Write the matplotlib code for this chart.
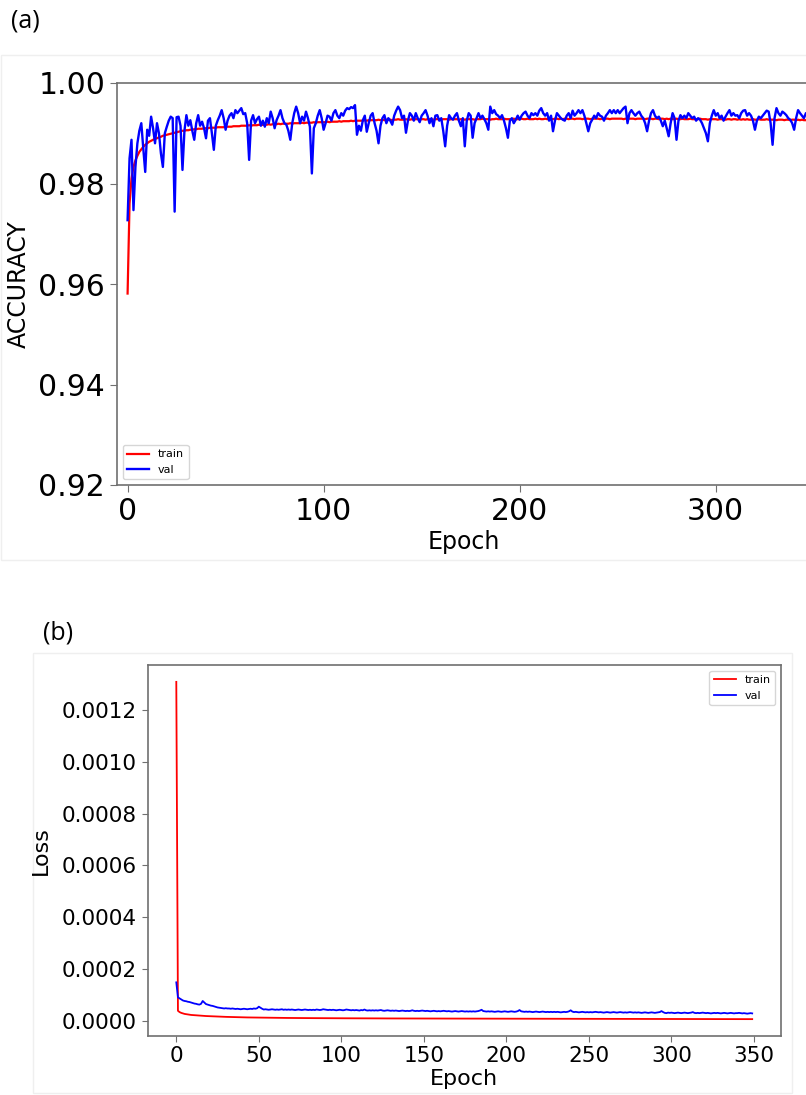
import matplotlib
matplotlib.use('Agg')
import matplotlib.pyplot as plt
from matplotlib.patches import Rectangle
import numpy as np

# 학습 곡선 데이터 (epoch 0 ~ 349)
train_acc = [
    0.9581, 0.9760, 0.9810, 0.9833, 0.9846, 0.9855, 0.9863, 0.9868, 0.9873, 0.9877,
    0.9880, 0.9883, 0.9885, 0.9887, 0.9889, 0.9890, 0.9892, 0.9893, 0.9895, 0.9896,
    0.9897, 0.9898, 0.9899, 0.9900, 0.9901, 0.9902, 0.9903, 0.9904, 0.9905, 0.9905,
    0.9906, 0.9906, 0.9907, 0.9907, 0.9908, 0.9908, 0.9909, 0.9909, 0.9909, 0.9910,
    0.9910, 0.9910, 0.9911, 0.9911, 0.9911, 0.9911, 0.9912, 0.9912, 0.9912, 0.9912,
    0.9913, 0.9913, 0.9913, 0.9913, 0.9914, 0.9914, 0.9914, 0.9914, 0.9915, 0.9915,
    0.9915, 0.9915, 0.9916, 0.9915, 0.9916, 0.9916, 0.9916, 0.9917, 0.9916, 0.9917,
    0.9917, 0.9917, 0.9918, 0.9917, 0.9918, 0.9918, 0.9918, 0.9919, 0.9918, 0.9919,
    0.9919, 0.9919, 0.9919, 0.9920, 0.9919, 0.9920, 0.9920, 0.9920, 0.9920, 0.9921,
    0.9920, 0.9921, 0.9921, 0.9921, 0.9921, 0.9922, 0.9921, 0.9922, 0.9922, 0.9922,
    0.9922, 0.9922, 0.9923, 0.9922, 0.9923, 0.9923, 0.9923, 0.9923, 0.9924, 0.9923,
    0.9924, 0.9924, 0.9924, 0.9924, 0.9925, 0.9924, 0.9925, 0.9925, 0.9925, 0.9925,
    0.9925, 0.9926, 0.9925, 0.9926, 0.9926, 0.9926, 0.9926, 0.9926, 0.9927, 0.9926,
    0.9927, 0.9926, 0.9927, 0.9927, 0.9927, 0.9926, 0.9927, 0.9927, 0.9928, 0.9927,
    0.9927, 0.9927, 0.9928, 0.9927, 0.9927, 0.9928, 0.9927, 0.9928, 0.9928, 0.9927,
    0.9928, 0.9928, 0.9927, 0.9928, 0.9928, 0.9928, 0.9927, 0.9928, 0.9928, 0.9928,
    0.9927, 0.9928, 0.9928, 0.9928, 0.9927, 0.9928, 0.9928, 0.9928, 0.9928, 0.9927,
    0.9928, 0.9928, 0.9927, 0.9928, 0.9928, 0.9928, 0.9928, 0.9927, 0.9928, 0.9928,
    0.9928, 0.9929, 0.9928, 0.9928, 0.9928, 0.9927, 0.9928, 0.9928, 0.9929, 0.9928,
    0.9928, 0.9928, 0.9929, 0.9928, 0.9928, 0.9928, 0.9928, 0.9929, 0.9928, 0.9928,
    0.9928, 0.9929, 0.9928, 0.9928, 0.9929, 0.9928, 0.9928, 0.9928, 0.9929, 0.9928,
    0.9929, 0.9928, 0.9928, 0.9929, 0.9928, 0.9929, 0.9928, 0.9928, 0.9929, 0.9929,
    0.9928, 0.9929, 0.9928, 0.9929, 0.9929, 0.9928, 0.9929, 0.9929, 0.9928, 0.9929,
    0.9929, 0.9929, 0.9928, 0.9929, 0.9929, 0.9929, 0.9928, 0.9929, 0.9929, 0.9929,
    0.9929, 0.9928, 0.9929, 0.9929, 0.9929, 0.9929, 0.9928, 0.9929, 0.9929, 0.9929,
    0.9929, 0.9929, 0.9929, 0.9928, 0.9929, 0.9929, 0.9929, 0.9929, 0.9929, 0.9928,
    0.9929, 0.9929, 0.9929, 0.9929, 0.9928, 0.9929, 0.9929, 0.9929, 0.9928, 0.9929,
    0.9929, 0.9928, 0.9929, 0.9929, 0.9928, 0.9929, 0.9928, 0.9929, 0.9928, 0.9928,
    0.9929, 0.9928, 0.9928, 0.9929, 0.9928, 0.9928, 0.9928, 0.9929, 0.9928, 0.9928,
    0.9928, 0.9928, 0.9929, 0.9928, 0.9928, 0.9928, 0.9927, 0.9928, 0.9928, 0.9928,
    0.9928, 0.9927, 0.9928, 0.9928, 0.9928, 0.9927, 0.9928, 0.9928, 0.9927, 0.9928,
    0.9928, 0.9927, 0.9928, 0.9927, 0.9928, 0.9927, 0.9928, 0.9927, 0.9927, 0.9928,
    0.9927, 0.9927, 0.9928, 0.9927, 0.9927, 0.9927, 0.9928, 0.9927, 0.9927, 0.9927,
    0.9927, 0.9926, 0.9927, 0.9927, 0.9927, 0.9926, 0.9927, 0.9927, 0.9926, 0.9927,
    0.9927, 0.9926, 0.9927, 0.9926, 0.9927, 0.9926, 0.9926, 0.9927, 0.9926, 0.9926,
]

val_acc = [
    0.9727, 0.9850, 0.9887, 0.9747, 0.9833, 0.9880, 0.9905, 0.9920, 0.9870, 0.9823,
    0.9907, 0.9895, 0.9933, 0.9910, 0.9880, 0.9920, 0.9900, 0.9860, 0.9833, 0.9900,
    0.9913, 0.9925, 0.9933, 0.9930, 0.9744, 0.9932, 0.9933, 0.9915, 0.9827, 0.9905,
    0.9936, 0.9915, 0.9926, 0.9905, 0.9887, 0.9920, 0.9936, 0.9915, 0.9923, 0.9910,
    0.9890, 0.9925, 0.9930, 0.9900, 0.9867, 0.9915, 0.9926, 0.9935, 0.9946, 0.9930,
    0.9907, 0.9925, 0.9935, 0.9940, 0.9930, 0.9946, 0.9940, 0.9945, 0.9950, 0.9938,
    0.9940, 0.9920, 0.9847, 0.9925, 0.9936, 0.9920, 0.9928, 0.9933, 0.9915, 0.9925,
    0.9913, 0.9930, 0.9920, 0.9943, 0.9930, 0.9910, 0.9926, 0.9935, 0.9946, 0.9930,
    0.9920, 0.9917, 0.9905, 0.9887, 0.9920, 0.9940, 0.9953, 0.9940, 0.9920, 0.9933,
    0.9925, 0.9943, 0.9930, 0.9913, 0.9820, 0.9910, 0.9920, 0.9935, 0.9946, 0.9930,
    0.9907, 0.9920, 0.9935, 0.9933, 0.9925, 0.9940, 0.9946, 0.9935, 0.9930, 0.9940,
    0.9935, 0.9945, 0.9950, 0.9948, 0.9952, 0.9950, 0.9956, 0.9897, 0.9915, 0.9905,
    0.9926, 0.9935, 0.9903, 0.9920, 0.9935, 0.9940, 0.9920, 0.9905, 0.9880, 0.9915,
    0.9930, 0.9936, 0.9920, 0.9930, 0.9925, 0.9917, 0.9935, 0.9945, 0.9953, 0.9946,
    0.9930, 0.9935, 0.9901, 0.9925, 0.9940, 0.9935, 0.9925, 0.9940, 0.9930, 0.9922,
    0.9935, 0.9940, 0.9946, 0.9935, 0.9920, 0.9930, 0.9914, 0.9935, 0.9936, 0.9925,
    0.9930, 0.9905, 0.9874, 0.9915, 0.9936, 0.9930, 0.9927, 0.9935, 0.9940, 0.9925,
    0.9914, 0.9930, 0.9874, 0.9925, 0.9940, 0.9935, 0.9891, 0.9920, 0.9930, 0.9940,
    0.9930, 0.9935, 0.9928, 0.9920, 0.9907, 0.9953, 0.9940, 0.9946, 0.9938, 0.9935,
    0.9930, 0.9936, 0.9925, 0.9910, 0.9891, 0.9925, 0.9930, 0.9920, 0.9927, 0.9935,
    0.9927, 0.9935, 0.9940, 0.9943, 0.9935, 0.9930, 0.9940, 0.9936, 0.9940, 0.9935,
    0.9945, 0.9950, 0.9940, 0.9935, 0.9940, 0.9925, 0.9935, 0.9904, 0.9925, 0.9940,
    0.9935, 0.9930, 0.9927, 0.9925, 0.9935, 0.9940, 0.9930, 0.9945, 0.9935, 0.9940,
    0.9946, 0.9940, 0.9946, 0.9935, 0.9920, 0.9904, 0.9920, 0.9927, 0.9935, 0.9930,
    0.9940, 0.9935, 0.9933, 0.9925, 0.9935, 0.9940, 0.9946, 0.9940, 0.9946, 0.9940,
    0.9946, 0.9940, 0.9945, 0.9950, 0.9953, 0.9920, 0.9940, 0.9946, 0.9940, 0.9935,
    0.9940, 0.9943, 0.9935, 0.9930, 0.9920, 0.9904, 0.9925, 0.9940, 0.9946, 0.9935,
    0.9930, 0.9933, 0.9925, 0.9914, 0.9925, 0.9910, 0.9894, 0.9920, 0.9940, 0.9930,
    0.9887, 0.9925, 0.9936, 0.9930, 0.9935, 0.9930, 0.9940, 0.9935, 0.9930, 0.9933,
    0.9925, 0.9930, 0.9927, 0.9920, 0.9910, 0.9900, 0.9884, 0.9920, 0.9935, 0.9946,
    0.9935, 0.9940, 0.9930, 0.9935, 0.9925, 0.9933, 0.9940, 0.9946, 0.9935, 0.9940,
    0.9935, 0.9936, 0.9930, 0.9940, 0.9945, 0.9946, 0.9935, 0.9940, 0.9935, 0.9925,
    0.9907, 0.9925, 0.9933, 0.9930, 0.9935, 0.9940, 0.9945, 0.9943, 0.9920, 0.9877,
    0.9930, 0.9950, 0.9940, 0.9935, 0.9943, 0.9940, 0.9936, 0.9930, 0.9927, 0.9920,
    0.9907, 0.9930, 0.9946, 0.9940, 0.9935, 0.9930, 0.9940, 0.9935, 0.9930, 0.9935,
]

# loss 값 (단위: 1e-6)
train_loss_e6 = [
    1310, 38, 33, 30, 28, 26, 25, 24, 23, 22,
    21.5, 21, 20.5, 20, 19.5, 19, 18.6, 18.2, 17.8, 17.5,
    17.2, 16.9, 16.6, 16.3, 16.0, 15.7, 15.4, 15.2, 15.0, 14.8,
    14.6, 14.4, 14.2, 14.0, 13.8, 13.6, 13.4, 13.3, 13.1, 13.0,
    12.8, 12.7, 12.6, 12.4, 12.3, 12.2, 12.1, 12.0, 11.9, 11.8,
    11.7, 11.6, 11.5, 11.4, 11.3, 11.2, 11.2, 11.1, 11.0, 10.9,
    10.9, 10.8, 10.7, 10.7, 10.6, 10.5, 10.5, 10.4, 10.4, 10.3,
    10.3, 10.2, 10.2, 10.1, 10.1, 10.0, 10.0, 9.9, 9.9, 9.9,
    9.8, 9.8, 9.7, 9.7, 9.7, 9.6, 9.6, 9.6, 9.5, 9.5,
    9.5, 9.4, 9.4, 9.4, 9.3, 9.3, 9.3, 9.2, 9.2, 9.2,
    9.2, 9.1, 9.1, 9.1, 9.1, 9.0, 9.0, 9.0, 9.0, 8.9,
    8.9, 8.9, 8.9, 8.8, 8.8, 8.8, 8.8, 8.8, 8.7, 8.7,
    8.7, 8.7, 8.7, 8.6, 8.6, 8.6, 8.6, 8.6, 8.5, 8.5,
    8.5, 8.5, 8.5, 8.5, 8.4, 8.4, 8.4, 8.4, 8.4, 8.4,
    8.3, 8.3, 8.3, 8.3, 8.3, 8.3, 8.2, 8.2, 8.2, 8.2,
    8.2, 8.2, 8.2, 8.1, 8.1, 8.1, 8.1, 8.1, 8.1, 8.1,
    8.0, 8.0, 8.0, 8.0, 8.0, 8.0, 8.0, 7.9, 7.9, 7.9,
    7.9, 7.9, 7.9, 7.9, 7.9, 7.8, 7.8, 7.8, 7.8, 7.8,
    7.8, 7.8, 7.8, 7.7, 7.7, 7.7, 7.7, 7.7, 7.7, 7.7,
    7.7, 7.6, 7.6, 7.6, 7.6, 7.6, 7.6, 7.6, 7.6, 7.5,
    7.5, 7.5, 7.5, 7.5, 7.5, 7.5, 7.5, 7.4, 7.4, 7.4,
    7.4, 7.4, 7.4, 7.4, 7.4, 7.3, 7.3, 7.3, 7.3, 7.3,
    7.3, 7.3, 7.3, 7.3, 7.2, 7.2, 7.2, 7.2, 7.2, 7.2,
    7.2, 7.2, 7.1, 7.1, 7.1, 7.1, 7.1, 7.1, 7.1, 7.1,
    7.0, 7.0, 7.0, 7.0, 7.0, 7.0, 7.0, 7.0, 6.9, 6.9,
    6.9, 6.9, 6.9, 6.9, 6.9, 6.9, 6.9, 6.8, 6.8, 6.8,
    6.8, 6.8, 6.8, 6.8, 6.8, 6.7, 6.7, 6.7, 6.7, 6.7,
    6.7, 6.7, 6.7, 6.6, 6.6, 6.6, 6.6, 6.6, 6.6, 6.6,
    6.6, 6.5, 6.5, 6.5, 6.5, 6.5, 6.5, 6.5, 6.5, 6.4,
    6.4, 6.4, 6.4, 6.4, 6.4, 6.4, 6.4, 6.3, 6.3, 6.3,
    6.3, 6.3, 6.3, 6.3, 6.3, 6.3, 6.2, 6.2, 6.2, 6.2,
    6.2, 6.2, 6.2, 6.2, 6.1, 6.1, 6.1, 6.1, 6.1, 6.1,
    6.1, 6.1, 6.1, 6.0, 6.0, 6.0, 6.0, 6.0, 6.0, 6.0,
    6.0, 6.0, 5.9, 5.9, 5.9, 5.9, 5.9, 5.9, 5.9, 5.9,
    5.9, 5.8, 5.8, 5.8, 5.8, 5.8, 5.8, 5.8, 5.8, 5.8,
]

val_loss_e6 = [
    148, 90, 86, 82, 78, 76, 75, 73, 72, 70,
    68, 66, 65, 63, 62, 65, 76, 70, 64, 62,
    60, 58, 57, 55, 53, 51, 50, 49, 48, 47,
    48, 47, 47, 46, 47, 46, 45, 46, 45, 44,
    45, 46, 45, 44, 45, 46, 45, 47, 46, 48,
    54, 50, 46, 43, 44, 43, 42, 43, 44, 43,
    42, 43, 42, 43, 44, 42, 43, 42, 43, 42,
    43, 42, 41, 42, 43, 42, 41, 42, 43, 42,
    41, 42, 41, 42, 41, 43, 42, 41, 42, 44,
    43, 42, 41, 42, 41, 42, 41, 40, 41, 42,
    41, 40, 41, 43, 42, 41, 40, 41, 40, 41,
    40, 39, 41, 40, 43, 40, 39, 40, 39, 40,
    39, 40, 39, 40, 41, 39, 38, 39, 40, 39,
    38, 39, 38, 39, 38, 37, 38, 39, 38, 37,
    38, 37, 38, 40, 38, 37, 38, 37, 38, 39,
    38, 37, 38, 37, 36, 37, 38, 37, 36, 37,
    36, 37, 38, 37, 36, 37, 36, 35, 36, 37,
    36, 35, 36, 37, 36, 35, 36, 35, 36, 35,
    36, 35, 36, 37, 39, 42, 37, 36, 35, 36,
    35, 36, 35, 34, 35, 36, 35, 34, 35, 36,
    35, 34, 35, 36, 35, 34, 35, 37, 41, 36,
    35, 34, 35, 34, 35, 34, 33, 34, 35, 34,
    33, 34, 35, 34, 33, 34, 33, 34, 33, 34,
    33, 34, 33, 32, 33, 34, 33, 34, 36, 40,
    35, 33, 34, 33, 32, 33, 34, 33, 32, 33,
    32, 33, 32, 33, 34, 33, 32, 33, 32, 31,
    32, 33, 32, 31, 32, 33, 32, 31, 32, 33,
    32, 31, 32, 31, 32, 33, 32, 31, 32, 31,
    32, 31, 30, 31, 32, 31, 30, 31, 32, 31,
    30, 31, 32, 33, 37, 33, 30, 29, 31, 30,
    31, 30, 29, 30, 31, 30, 29, 30, 31, 30,
    29, 30, 31, 33, 30, 29, 30, 29, 30, 31,
    30, 29, 30, 29, 28, 29, 30, 29, 30, 29,
    28, 29, 30, 29, 28, 29, 30, 29, 28, 29,
    29, 30, 29, 28, 29, 28, 27, 28, 29, 28,
]

acc_yticks = [0.92, 0.94, 0.96, 0.98, 1.00]
acc_xticks = [0, 100, 200, 300]
loss_yticks = [0.0, 0.0002, 0.0004, 0.0006, 0.0008, 0.0010, 0.0012]
loss_xticks = [0, 50, 100, 150, 200, 250, 300, 350]

W, H = 806, 1095
fig = plt.figure(figsize=(W / 100, H / 100), dpi=100)
fig.patch.set_facecolor('white')

# 패널 테두리 (스크린샷 느낌), 축 뒤에 그리기
fig.patches.append(Rectangle((1 / W, 1 - 560 / H), 810 / W, 505 / H, transform=fig.transFigure,
                             facecolor='none', edgecolor='#efefef', lw=1, zorder=-5))
fig.patches.append(Rectangle((33 / W, 1 - 1093 / H), 759 / W, 440 / H, transform=fig.transFigure,
                             facecolor='none', edgecolor='#efefef', lw=1, zorder=-5))

spine_col = '#707070'

# (a) 정확도
ax1 = fig.add_axes([117 / W, 1 - 485 / H, 694 / W, 402 / H])
ax1.plot(np.arange(len(train_acc)), train_acc, color='red', lw=1.6, label='train')
ax1.plot(np.arange(len(val_acc)), val_acc, color='blue', lw=1.7, label='val')
ax1.set_xlim(-5.4, 348.6)
ax1.set_ylim(0.92, 1.00)
ax1.set_xticks(acc_xticks)
ax1.set_yticks(acc_yticks)
ax1.set_yticklabels([f'{v:.2f}' for v in acc_yticks])
ax1.tick_params(labelsize=21.5, color=spine_col, length=5)
ax1.set_xlabel('Epoch', fontsize=17, labelpad=3)
ax1.set_ylabel('ACCURACY', fontsize=17)
ax1.yaxis.set_label_coords(-0.124, 0.5)
for s in ax1.spines.values():
    s.set_color(spine_col)
    s.set_linewidth(1.2)
ax1.legend(loc='lower left', fontsize=8)

# (b) 손실
ax2 = fig.add_axes([147.5 / W, 1 - 1036 / H, 633.5 / W, 371 / H])
ax2.plot(np.arange(len(train_loss_e6)), np.array(train_loss_e6) * 1e-6, color='red', lw=1.3, label='train')
ax2.plot(np.arange(len(val_loss_e6)), np.array(val_loss_e6) * 1e-6, color='blue', lw=1.3, label='val')
ax2.set_xticks(loss_xticks)
ax2.set_yticks(loss_yticks)
ax2.set_yticklabels([f'{v:.4f}' for v in loss_yticks])
ax2.tick_params(labelsize=15.5, color=spine_col, length=4)
ax2.set_xlabel('Epoch', fontsize=16, labelpad=2)
ax2.set_ylabel('Loss', fontsize=16)
ax2.yaxis.set_label_coords(-0.152, 0.5)
for s in ax2.spines.values():
    s.set_color(spine_col)
    s.set_linewidth(1.2)
ax2.legend(loc='upper right', fontsize=8)

# 패널 라벨
fig.text(11 / W, 1 - 21 / H, '(a)', fontsize=18, family=['Open Sans', 'DejaVu Sans'], va='center', ha='left')
fig.text(43 / W, 1 - 633 / H, '(b)', fontsize=18, family=['Open Sans', 'DejaVu Sans'], va='center', ha='left')

fig.savefig('out.png', dpi=100)
